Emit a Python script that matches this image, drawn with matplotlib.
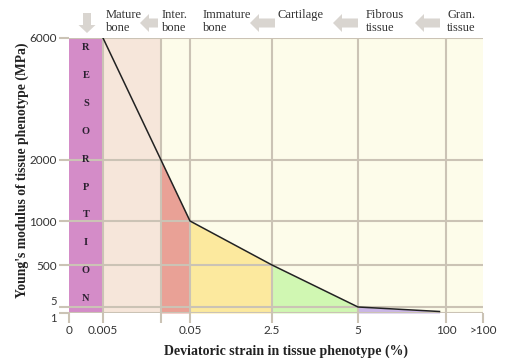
import numpy as np
import matplotlib
matplotlib.use("Agg")
from matplotlib import pyplot as plt
from matplotlib.patches import FancyArrow

# axis ticks: strain (%) and Young's modulus (MPa), with their slot positions
strain_ticks = [0, 0.005, 0.01, 0.05, 2.5, 5, 100, 200]
strain_labels = ['0', '0.005', '', '0.05', '2.5', '5', '100', '>100']
strain_slots = [0, 34, 92, 121, 203, 289, 377, 414]

E_ticks = [1, 5, 500, 1000, 2000, 6000]
E_slots = [0, 6, 48, 92, 153, 275]

# curve of modulus vs strain
curve_strain = [0.005, 0.01, 0.05, 2.5, 5, 93]
curve_E = [6000, 2000, 1000, 500, 5, 2]

phase_names = ['Mature\nbone', 'Inter.\nbone', 'Immature\nbone', 'Cartilage',
               'Fibrous\ntissue', 'Gran.\ntissue']
phase_colors = ['#f6e6da', '#e9a196', '#fce99e', '#d0f7b2', '#cab6e6']

resorption = 'RESORPTION'

fig = plt.figure(figsize=(5.08, 3.6), dpi=100)
ax = fig.add_axes([69 / 508, 47 / 360, 414 / 508, 275 / 360])

ax.set_xscale('function', functions=(
    lambda x: np.interp(x, strain_ticks, strain_slots),
    lambda x: np.interp(x, strain_slots, strain_ticks)))
ax.set_yscale('function', functions=(
    lambda y: np.interp(y, E_ticks, E_slots),
    lambda y: np.interp(y, E_slots, E_ticks)))
ax.set_xlim(0, 200)
ax.set_ylim(1, 6000)
ax.set_facecolor('#fdfcea')

# resorption column and mature bone column (full height)
ax.fill_between([0, 0.005], 1, 6000, color='#d48cc8', lw=0, zorder=1)
ax.fill_between(curve_strain[:2], 1, 6000, color=phase_colors[0], lw=0, zorder=1)
# other phases filled under the curve
for i in range(1, len(curve_strain) - 1):
    ax.fill_between(curve_strain[i:i + 2], 1, curve_E[i:i + 2],
                    color=phase_colors[i], lw=0, zorder=1)

ax.plot(curve_strain, curve_E, color='#222222', lw=1.1, zorder=3)

grid_c = '#cbc3b5'
ax.set_xticks(strain_ticks)
ax.set_xticklabels(strain_labels)
ax.set_yticks(E_ticks)
ax.set_yticklabels([str(v) for v in E_ticks])
ax.set_axisbelow(False)
ax.grid(True, color=grid_c, lw=1.5)
ax.xaxis.get_gridlines()[-1].set_visible(False)
ax.xaxis.get_gridlines()[0].set_visible(False)
ax.tick_params(length=7, width=1.5, color=grid_c, labelsize=8.5,
               labelcolor='#333333', pad=2)
for lab in ax.get_xticklabels() + ax.get_yticklabels():
    lab.set_family('Lato')
# keep the close "5" and "1" labels apart
ylabs = ax.get_yticklabels()
ylabs[0].set_va('top')
ylabs[0].set_fontsize(8)
ylabs[1].set_va('bottom')
ylabs[1].set_fontsize(8)
for s in ax.spines.values():
    s.set_visible(False)

# overlay in pixel coords for header, arrows and the resorption letters
ov = fig.add_axes([0, 0, 1, 1], zorder=5)
ov.set_xlim(0, 508)
ov.set_ylim(360, 0)
ov.axis('off')
ov.patch.set_alpha(0)

serif = 'Liberation Serif'
label_x = [106, 162, 203, 278, 366, 447]
for name, lx in zip(phase_names, label_x):
    ov.text(lx, 9, name, family=serif, fontsize=9, color='#333333',
            va='top', ha='left', linespacing=1.15)

arrow_c = '#d9d5d0'
ov.add_patch(FancyArrow(87, 13, 0, 20, width=8, head_width=17, head_length=8,
                        length_includes_head=True, color=arrow_c, lw=0))
for x0, x1 in [(158, 140), (275, 250), (358, 333), (440, 415)]:
    ov.add_patch(FancyArrow(x0, 23, x1 - x0, 0, width=9, head_width=18,
                            head_length=9, length_includes_head=True,
                            color=arrow_c, lw=0))

for i, ch in enumerate(resorption):
    ov.text(86, 48 + i * 27.8, ch, family=serif, fontsize=7.5, fontweight='bold',
            color='#2a2030', ha='center', va='center')

fig.text(22 / 508, 1 - 170 / 360, "Young's modulus of tissue phenotype (MPa)",
         family=serif, fontsize=9.8, fontweight='bold', rotation=90,
         ha='center', va='center', color='#222222')
fig.text(286 / 508, 1 - 351 / 360, 'Deviatoric strain in tissue phenotype (%)',
         family=serif, fontsize=10, fontweight='bold',
         ha='center', va='center', color='#222222')

fig.savefig('out.png', dpi=100)
